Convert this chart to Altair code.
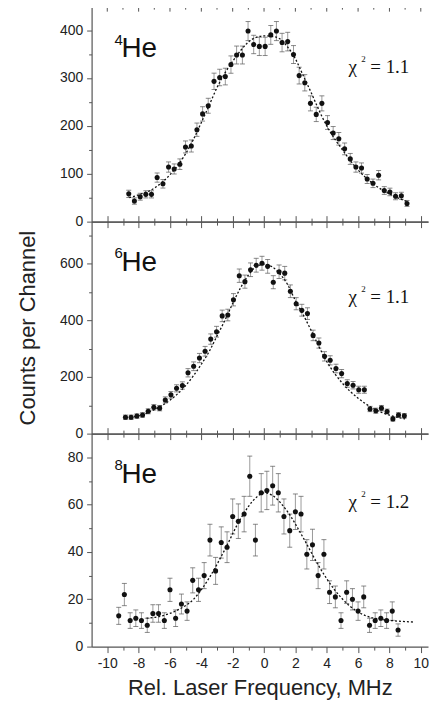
import altair as alt
import pandas as pd

# ---------------- data ----------------
x4 = [-8.63, -8.27, -7.90, -7.54, -7.18, -6.82, -6.45, -6.09, -5.73, -5.37,
      -5.01, -4.64, -4.28, -3.92, -3.56, -3.19, -2.83, -2.47, -2.11, -1.75,
      -1.38, -1.02, -0.66, -0.30, 0.07, 0.43, 0.79, 1.15, 1.51, 1.88,
      2.24, 2.60, 2.96, 3.33, 3.69, 4.05, 4.41, 4.77, 5.14, 5.50,
      5.86, 6.22, 6.58, 6.95, 7.31, 7.67, 8.03, 8.39, 8.76, 9.12]
y4 = [58, 43, 52, 57, 57, 92, 79, 114, 110, 120,
      156, 158, 192, 225, 242, 293, 301, 303, 328, 348,
      348, 398, 370, 366, 366, 390, 398, 374, 376, 349,
      305, 290, 247, 224, 247, 207, 185, 173, 152, 131,
      114, 112, 89, 80, 97, 65, 62, 53, 54, 38]
e4 = [7.6, 6.6, 7.2, 7.5, 7.5, 9.6, 8.9, 10.7, 10.5, 11.0,
      12.5, 12.6, 13.9, 15.0, 15.6, 17.1, 17.3, 17.4, 18.1, 18.7,
      18.7, 19.9, 19.2, 19.1, 19.1, 19.7, 19.9, 19.3, 19.4, 18.7,
      17.5, 17.0, 15.7, 15.0, 15.7, 14.4, 13.6, 13.2, 12.3, 11.4,
      10.7, 10.6, 9.4, 8.9, 9.8, 8.1, 7.9, 7.3, 7.3, 6.2]
fx4 = [-8.6, -8, -7, -6, -5, -4.5, -4, -3.5, -3, -2.5, -2, -1.5, -1, -0.5, 0,
       0.5, 1, 1.5, 2, 2.5, 3, 3.5, 4, 5, 6, 7, 8, 9.1]
fy4 = [50, 56, 70, 98, 142, 172, 207, 243, 280, 310, 335, 357, 375, 385, 388,
       387, 382, 365, 340, 305, 270, 233, 200, 150, 108, 78, 58, 42]

x6 = [-8.84, -8.48, -8.11, -7.75, -7.39, -7.03, -6.66, -6.30, -5.94, -5.58,
      -5.21, -4.85, -4.49, -4.12, -3.76, -3.40, -3.03, -2.67, -2.31, -1.95,
      -1.58, -1.22, -0.86, -0.50, -0.13, 0.23, 0.59, 0.96, 1.32, 1.68,
      2.05, 2.41, 2.77, 3.13, 3.50, 3.86, 4.22, 4.59, 4.95, 5.31,
      5.68, 6.04, 6.40, 6.76, 7.13, 7.49, 7.85, 8.22, 8.58, 8.95]
y6 = [58, 58, 62, 66, 79, 93, 90, 119, 137, 160,
      170, 215, 238, 267, 291, 334, 360, 416, 419, 473,
      558, 537, 579, 595, 602, 591, 535, 572, 567, 503,
      459, 436, 424, 347, 320, 273, 259, 230, 212, 177,
      171, 155, 155, 87, 81, 90, 78, 52, 66, 63]
e6 = [7.6, 7.6, 7.9, 8.1, 8.9, 9.6, 9.5, 10.9, 11.7, 12.6,
      13.0, 14.7, 15.4, 16.3, 17.1, 18.3, 19.0, 20.4, 20.5, 21.7,
      23.6, 23.2, 24.1, 24.4, 24.5, 24.3, 23.1, 23.9, 23.8, 22.4,
      21.4, 20.9, 20.6, 18.6, 17.9, 16.5, 16.1, 15.2, 14.6, 13.3,
      13.1, 12.4, 12.4, 9.3, 9.0, 9.5, 8.8, 7.2, 8.1, 7.9]
fx6 = [-8.8, -8, -7, -6, -5, -4, -3.5, -3, -2.5, -2, -1.5, -1, -0.5, 0,
       0.5, 1, 1.5, 2, 2.5, 3, 3.5, 4, 5, 6, 7, 8, 9]
fy6 = [56, 63, 85, 118, 170, 245, 290, 345, 400, 460, 515, 560, 590, 598,
       590, 565, 527, 470, 420, 365, 308, 255, 178, 125, 88, 65, 52]

x8 = [-9.27, -8.91, -8.54, -8.18, -7.82, -7.45, -7.09, -6.73, -6.36, -6.00,
      -5.64, -5.27, -4.91, -4.55, -4.18, -3.82, -3.45, -3.09, -2.73, -2.36,
      -2.00, -1.64, -1.27, -0.91, -0.55, -0.18, 0.18, 0.55, 0.91, 1.27,
      1.64, 2.00, 2.36, 2.73, 3.09, 3.45, 3.82, 4.18, 4.55, 4.91,
      5.27, 5.64, 6.00, 6.36, 6.73, 7.09, 7.45, 7.82, 8.18, 8.55]
y8 = [13, 22, 11, 12, 11, 9, 14, 14, 11, 24,
      12, 18, 15, 28, 24, 30, 45, 32, 44, 42,
      55, 53, 56, 72, 45, 65, 66, 68, 65, 55,
      49, 57, 56, 39, 43, 30, 39, 23, 21, 11,
      23, 20, 15, 21, 9, 11, 12, 11, 15, 7]
e8 = [3.6, 4.7, 3.3, 3.5, 3.3, 3.0, 3.7, 3.7, 3.3, 4.9,
      3.5, 4.2, 3.9, 5.3, 4.9, 5.5, 6.7, 5.7, 6.6, 6.5,
      7.4, 7.3, 7.5, 8.5, 6.7, 8.1, 8.1, 8.2, 8.1, 7.4,
      7.0, 7.5, 7.5, 6.2, 6.6, 5.5, 6.2, 4.8, 4.6, 3.3,
      4.8, 4.5, 3.9, 4.6, 3.0, 3.3, 3.5, 3.3, 3.9, 2.6]
fx8 = [-7.5, -6.5, -5.5, -4.5, -3.5, -2.5, -1.5, -0.5, 0, 0.5, 1.5, 2.5,
       3.5, 4.5, 5.5, 6.5, 7.5, 8.5, 9.5]
fy8 = [12, 13, 15.5, 20, 29, 41, 54, 63, 65, 64, 57, 46,
       34, 24, 17, 13, 11.5, 10.8, 10.4]

x_ticks = list(range(-10, 11))

FONT = "Liberation Sans"
SERIF = "Liberation Serif"
AX = "#555555"

xscale = alt.Scale(domain=[-11, 10.46], nice=False, zero=False)
tick_x = {"condition": {"test": "datum.value % 2 === 0", "value": 6}, "value": 3.5}


def panel(x, y, e, fx, fy, ymax, height, yvals, ymaj, sup, chi, he_y, sup_y, chi_y,
          first=False, last=False, ytitle=None):
    pts = pd.DataFrame({"x": x, "y": y,
                        "lo": [a - b for a, b in zip(y, e)],
                        "hi": [a + b for a, b in zip(y, e)]})
    fit = pd.DataFrame({"x": fx, "y": fy})
    ticks = pd.DataFrame({"t": x_ticks, "major": [t % 2 == 0 for t in x_ticks]})
    yscale = alt.Scale(domain=[0, ymax], nice=False, zero=True)
    yaxis = alt.Axis(values=yvals, title=ytitle, titlePadding=20,
                     labelExpr=f"datum.value % {ymaj} === 0 ? datum.label : ''",
                     tickSize={"condition": {"test": f"datum.value % {ymaj} === 0", "value": 5},
                               "value": 3},
                     labelPadding=4, domainColor=AX, tickColor=AX)
    if last:
        xaxis_b = alt.Axis(values=x_ticks, title="Rel. Laser Frequency, MHz",
                           labelExpr="datum.value % 2 === 0 ? toString(datum.value) : ''",
                           tickSize=tick_x, labelPadding=4, titlePadding=7)
    else:
        xaxis_b = alt.Axis(values=x_ticks, labels=False, title=None, tickSize=tick_x)
    if first:
        xaxis_t = alt.Axis(orient="top", values=x_ticks, labels=False, ticks=False, title=None)
    else:
        xaxis_t = alt.Axis(orient="top", values=x_ticks, labels=False, title=None,
                           tickSize=tick_x)

    base = alt.Chart(pts)
    bars = base.mark_rule(color="#9a9a9a", strokeWidth=1).encode(
        x=alt.X("x:Q", scale=xscale, axis=None),
        y=alt.Y("lo:Q", scale=yscale, axis=yaxis),
        y2="hi:Q")
    cap_lo = base.mark_tick(color="#555555", size=5, thickness=1, orient="horizontal").encode(
        x=alt.X("x:Q", scale=xscale, axis=None),
        y=alt.Y("lo:Q", scale=yscale, axis=yaxis))
    cap_hi = base.mark_tick(color="#555555", size=5, thickness=1, orient="horizontal").encode(
        x=alt.X("x:Q", scale=xscale, axis=None),
        y=alt.Y("hi:Q", scale=yscale, axis=yaxis))
    line = alt.Chart(fit).mark_line(color="#111111", strokeDash=[2, 2], strokeWidth=1.3,
                                    interpolate="monotone").encode(
        x=alt.X("x:Q", scale=xscale, axis=xaxis_t),
        y=alt.Y("y:Q", scale=yscale, axis=yaxis))
    dots = base.mark_circle(color="#111111", size=26, opacity=1).encode(
        x=alt.X("x:Q", scale=xscale, axis=xaxis_b),
        y=alt.Y("y:Q", scale=yscale, axis=yaxis))

    one = pd.DataFrame({"a": [0]})
    t_sup = alt.Chart(one).mark_text(text=sup, font=FONT, fontSize=15, align="left",
                                     baseline="alphabetic", color="#111").encode(
        x=alt.value(23), y=alt.value(sup_y))
    t_he = alt.Chart(one).mark_text(text="He", font=FONT, fontSize=28, align="left",
                                    baseline="alphabetic", color="#111").encode(
        x=alt.value(30), y=alt.value(he_y))
    t_chi = alt.Chart(one).mark_text(text="χ", font=SERIF, fontSize=19, align="left",
                                     baseline="alphabetic", color="#111").encode(
        x=alt.value(258), y=alt.value(chi_y))
    t_two = alt.Chart(one).mark_text(text="2", font=SERIF, fontSize=9, align="left",
                                     baseline="alphabetic", color="#111").encode(
        x=alt.value(271), y=alt.value(chi_y - 11))
    t_val = alt.Chart(one).mark_text(text="= " + chi, font=SERIF, fontSize=19, align="left",
                                     baseline="alphabetic", color="#111").encode(
        x=alt.value(280), y=alt.value(chi_y))

    layers = [bars, cap_lo, cap_hi, line, dots, t_sup, t_he, t_chi, t_two, t_val]
    if first:
        tk = alt.Chart(ticks)
        maj = tk.mark_rule(color=AX).encode(
            x=alt.X("t:Q", scale=xscale, axis=None),
            y=alt.value(0), y2=alt.value(5)).transform_filter("datum.major")
        mnr = tk.mark_rule(color=AX).encode(
            x=alt.X("t:Q", scale=xscale, axis=None),
            y=alt.value(0), y2=alt.value(3)).transform_filter("!datum.major")
        layers += [maj, mnr]
    return alt.layer(*layers).resolve_axis(x="independent").properties(width=338, height=height)


p4 = panel(x4, y4, e4, fx4, fy4, 449, 216, list(range(0, 401, 50)), 100, "4", "1.1",
           50.4, 38.1, 66.4, first=True)
p6 = panel(x6, y6, e6, fx6, fy6, 749, 213, list(range(0, 701, 100)), 200, "6", "1.1",
           49.4, 36.1, 81.4, ytitle="Counts per Channel")
p8 = panel(x8, y8, e8, fx8, fy8, 90, 214, list(range(0, 81, 10)), 20, "8", "1.2",
           49.7, 36.4, 74.4, last=True)

chart = alt.vconcat(p4, p6, p8, spacing=0, bounds="flush").properties(
    padding={"left": 8, "top": -4, "right": 0, "bottom": 0}
).configure_view(stroke=None).configure_axis(
    labelFont=FONT, labelFontSize=14, labelColor="#222222",
    titleFont=FONT, titleFontSize=22, titleFontWeight="normal", titleColor="#222222",
    domainColor=AX, tickColor=AX, domainWidth=1.2, tickWidth=1, grid=False
)

chart.save("out.html", embed_options={"renderer": "svg", "actions": False})
